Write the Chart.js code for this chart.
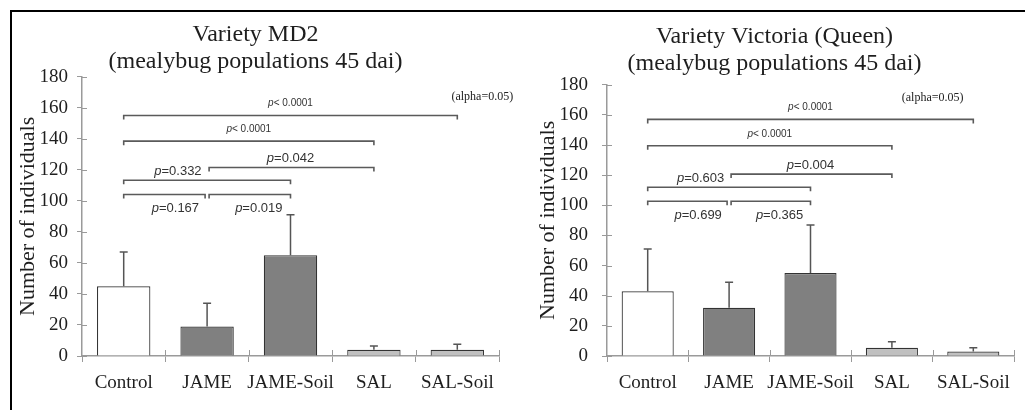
<!DOCTYPE html>
<html>
<head>
<meta charset="utf-8">
<script src="https://cdn.jsdelivr.net/npm/chart.js@4"></script>
<style>
  html, body { margin: 0; padding: 0; background: #fff; }
  body { width: 1025px; height: 410px; position: relative; overflow: hidden; }
  #frame { position: absolute; left: 10px; top: 10px; width: 1015px; height: 400px;
           border-top: 2px solid #000; border-left: 2px solid #000; }
  #md2 { position: absolute; left: 12px; top: 12px; }
  #victoria { position: absolute; left: 535px; top: 12px; }
</style>
</head>
<body>
<div id="frame"></div>
<canvas id="md2" width="506" height="398"></canvas>
<canvas id="victoria" width="490" height="398"></canvas>

<script>
// categories shared by both panels
const categories = ['Control', 'JAME', 'JAME-Soil', 'SAL', 'SAL-Soil'];
const barColors = ['#ffffff', '#808080', '#808080', '#c0c0c0', '#c0c0c0'];

// Variety MD2
const md2Means = [45, 19, 65, 4, 4];
const md2Errors = [22, 15, 26, 2.5, 3.5];
const md2Pairs = [[0, 4], [0, 3], [1, 3], [0, 2], [0, 1], [1, 2]];
const md2PValues = ['< 0.0001', '< 0.0001', '=0.042', '=0.332', '=0.167', '=0.019'];
const md2Levels = [155, 138.5, 121.5, 113.3, 104.1, 104.1];

// Variety Victoria (Queen)
const vicMeans = [43, 32, 55, 5.5, 3];
const vicErrors = [28, 17, 32, 4, 2.5];
const vicPairs = [[0, 4], [0, 3], [1, 3], [0, 2], [0, 1], [1, 2]];
const vicPValues = ['< 0.0001', '< 0.0001', '=0.004', '=0.603', '=0.699', '=0.365'];
const vicLevels = [157, 139.5, 120.7, 112, 102.7, 102.7];

// where each p label sits: category position, and above/below the bracket
const labelPos = [2.0, 1.5, 2.0, 0.65, 0.62, 1.62];
const labelSide = ['small', 'small', 'above', 'above', 'below', 'below'];

const SERIF = '"Liberation Serif", "Times New Roman", serif';
const SANS = '"Liberation Sans", Arial, sans-serif';
const AXIS = '#9a9a9a';

// error bars (upper only) + brackets + crossing ticks
const extrasPlugin = {
  id: 'extras',
  afterDatasetsDraw(chart, args, opts) {
    const ctx = chart.ctx;
    const y = chart.scales.y;
    const meta = chart.getDatasetMeta(0);
    ctx.save();
    ctx.strokeStyle = '#555';
    ctx.lineWidth = 1.5;
    opts.errors.forEach((e, i) => {
      const bar = meta.data[i];
      const top = y.getPixelForValue(opts.means[i] + e);
      ctx.beginPath();
      ctx.moveTo(bar.x, bar.y);
      ctx.lineTo(bar.x, top);
      ctx.moveTo(bar.x - 4, top);
      ctx.lineTo(bar.x + 4, top);
      ctx.stroke();
    });
    ctx.restore();
  },
  afterDraw(chart, args, opts) {
    const ctx = chart.ctx;
    const x = chart.scales.x, y = chart.scales.y;
    const area = chart.chartArea;
    ctx.save();

    // inner half of the crossing tick marks
    ctx.strokeStyle = AXIS;
    ctx.lineWidth = 1;
    y.ticks.forEach(t => {
      const py = Math.round(y.getPixelForValue(t.value)) + 0.5;
      ctx.beginPath();
      ctx.moveTo(area.left, py);
      ctx.lineTo(area.left + 5, py);
      ctx.stroke();
    });
    const w = (area.right - area.left) / categories.length;
    for (let i = 1; i <= categories.length; i++) {
      const px = Math.round(area.left + i * w) + 0.5;
      ctx.beginPath();
      ctx.moveTo(px, area.bottom);
      ctx.lineTo(px, area.bottom - 6);
      ctx.stroke();
    }

    // comparison brackets
    ctx.strokeStyle = '#5a5a5a';
    ctx.fillStyle = '#333';
    ctx.lineWidth = 1.6;
    opts.pairs.forEach((p, k) => {
      let x1 = x.getPixelForValue(p[0]);
      let x2 = x.getPixelForValue(p[1]);
      if (p[0] === 1) x1 += 2;
      if (p[1] === 1) x2 -= 2;
      const py = y.getPixelForValue(opts.levels[k]);
      ctx.beginPath();
      ctx.moveTo(x1, py + 4);
      ctx.lineTo(x1, py);
      ctx.lineTo(x2, py);
      ctx.lineTo(x2, py + 4);
      ctx.stroke();

      const side = labelSide[k];
      const size = side === 'small' ? 10 : 13;
      const ly = side === 'small' ? py - 12 : side === 'above' ? py - 9 : py + 14;
      const lx = x.getPixelForValue(labelPos[k]);
      ctx.textBaseline = 'middle';
      ctx.font = 'italic ' + size + 'px ' + SANS;
      const pw = ctx.measureText('p').width;
      ctx.font = size + 'px ' + SANS;
      const rw = ctx.measureText(opts.pvalues[k]).width;
      const start = lx - (pw + rw) / 2;
      ctx.textAlign = 'left';
      ctx.font = 'italic ' + size + 'px ' + SANS;
      ctx.fillText('p', start, ly);
      ctx.font = size + 'px ' + SANS;
      ctx.fillText(opts.pvalues[k], start + pw, ly);
    });

    // alpha note
    ctx.font = '12px ' + SERIF;
    ctx.textAlign = 'center';
    ctx.fillStyle = '#222';
    ctx.fillText('(alpha=0.05)', x.getPixelForValue(opts.alphaX), y.getPixelForValue(opts.alphaY));
    ctx.restore();
  }
};

function makeChart(id, title, means, errors, pairs, pvalues, levels, layout) {
  return new Chart(document.getElementById(id), {
    type: 'bar',
    data: {
      labels: categories,
      datasets: [{
        data: means,
        backgroundColor: barColors,
        borderColor: '#333',
        borderWidth: 1.2,
        barPercentage: 0.64,
        categoryPercentage: 1.0
      }]
    },
    options: {
      responsive: false,
      animation: false,
      events: [],
      layout: { padding: { left: 0, right: layout.padRight, top: 0, bottom: 0 } },
      plugins: {
        legend: { display: false },
        tooltip: { enabled: false },
        title: {
          display: true,
          text: title,
          color: '#1e1e1e',
          font: { family: SERIF, size: 24, weight: 'normal', lineHeight: 1.12 },
          padding: { top: layout.titleTop, bottom: layout.titleBottom }
        },
        extras: {
          means: means, errors: errors, pairs: pairs, pvalues: pvalues, levels: levels,
          alphaX: layout.alphaX, alphaY: layout.alphaY
        }
      },
      scales: {
        x: {
          offset: true,
          grid: { display: true, offset: true, drawOnChartArea: false, tickLength: 6, color: AXIS },
          border: { color: AXIS, width: 1.5 },
          ticks: {
            color: '#1e1e1e', font: { family: SERIF, size: 19 },
            maxRotation: 0, minRotation: 0, autoSkip: false, padding: 10
          },
          afterFit(s) { s.height = 54; }
        },
        y: {
          min: 0, max: 180,
          grid: { drawOnChartArea: false, tickLength: 5, color: AXIS },
          border: { color: AXIS, width: 1.5 },
          ticks: { stepSize: 20, color: '#1e1e1e', font: { family: SERIF, size: 19 }, padding: layout.tickPad },
          title: {
            display: true, text: 'Number of individuals', color: '#1e1e1e',
            font: { family: SERIF, size: 22 }, padding: { top: layout.axisTitlePad, bottom: 0 }
          },
          afterFit(s) { s.width = layout.yWidth; }
        }
      }
    },
    plugins: [extrasPlugin]
  });
}

makeChart('md2', ['Variety MD2', '(mealybug populations 45 dai)'],
  md2Means, md2Errors, md2Pairs, md2PValues, md2Levels,
  { padRight: 19, titleTop: 9, titleBottom: 2, tickPad: 9, axisTitlePad: 3, yWidth: 70, alphaX: 4.3, alphaY: 167 });

makeChart('victoria', ['Variety Victoria (Queen)', '(mealybug populations 45 dai)'],
  vicMeans, vicErrors, vicPairs, vicPValues, vicLevels,
  { padRight: 11, titleTop: 11, titleBottom: 8, tickPad: 14, axisTitlePad: 0, yWidth: 72, alphaX: 3.5, alphaY: 171 });
</script>
</body>
</html>
